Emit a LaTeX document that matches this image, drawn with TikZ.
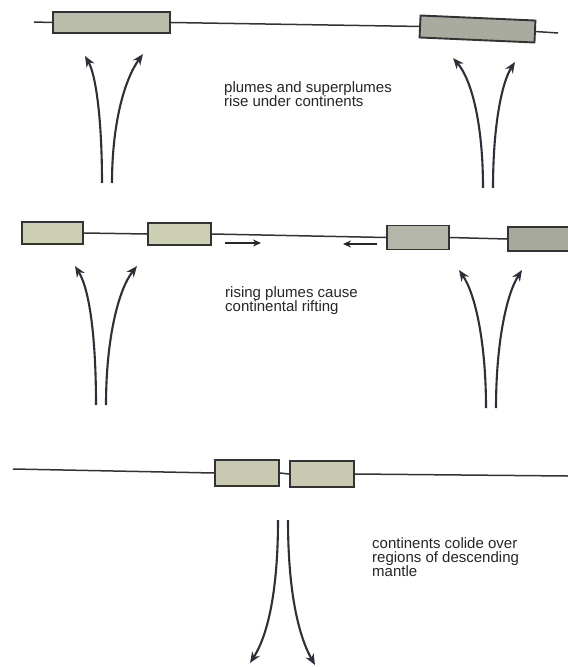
\documentclass[tikz,border=0pt]{standalone}
\usepackage{fontspec}
\setmainfont{Liberation Sans}
\usetikzlibrary{arrows.meta}
\definecolor{edge}{HTML}{333333}
\definecolor{plumecol}{HTML}{2F2F3A}
\definecolor{txt}{HTML}{262626}
\definecolor{fillA}{HTML}{B9BCA9}
\definecolor{fillB}{HTML}{A9AB9E}
\definecolor{fillC}{HTML}{CDD0B2}
\definecolor{fillD}{HTML}{B4B6AA}
\definecolor{fillE}{HTML}{A6A99C}
\definecolor{fillF}{HTML}{C9C9B1}
\tikzset{
  plate/.style={draw=edge, line width=1.9bp, inner sep=0pt, rectangle},
  crust/.style={draw=edge, line width=1.5bp},
  plume/.style={draw=plumecol, line width=2.1bp, -{Stealth[length=11bp,width=9bp]}},
  drift/.style={draw=black!85, line width=1.8bp, -{Stealth[length=8bp,width=7bp]}},
  caption/.style={anchor=north west, inner sep=0pt, align=left, text=txt,
    font=\fontsize{15bp}{14bp}\selectfont},
}
\begin{document}
\begin{tikzpicture}[x=1bp,y=-1bp]
\useasboundingbox (0,0) rectangle (568,667);
\fill[white] (0,0) rectangle (568,667);

% ---------- row 1 ----------
\coordinate (r1l) at (34,22);
\coordinate (r1r) at (558,33);
\node[plate, fill=fillA, minimum width=117bp, minimum height=21bp] (b11) at (111.5,22.5) {};
\node[plate, fill=fillB, minimum width=115bp, minimum height=22bp, rotate=-2.5] (b12) at (477.5,29) {};
\draw[crust] (r1l) -- (b11.west);
\draw[crust] (b11.east) -- (b12.west);
\draw[crust] (b12.east) -- (r1r);

\coordinate (t11) at (102,183); \coordinate (h11) at (85,56);
\coordinate (t12) at (112,183); \coordinate (h12) at (143,54);
\coordinate (t13) at (483,188); \coordinate (h13) at (453,58);
\coordinate (t14) at (493,188); \coordinate (h14) at (515,62);
\draw[plume] (t11) .. controls (102,120) and (96,75) .. (h11);
\draw[plume] (t12) .. controls (112,125) and (124,80) .. (h12);
\draw[plume] (t13) .. controls (483,125) and (472,80) .. (h13);
\draw[plume] (t14) .. controls (493,125) and (502,82) .. (h14);

\node[caption] (c1) at (224,81) {plumes and superplumes\\rise under continents};

% ---------- row 2 ----------
\node[plate, fill=fillC, minimum width=61bp, minimum height=22bp] (b21) at (52.5,233) {};
\node[plate, fill=fillC, minimum width=63bp, minimum height=22bp] (b22) at (179.5,234) {};
\node[plate, fill=fillD, minimum width=62bp, minimum height=24bp] (b23) at (418,237.5) {};
\node[plate, fill=fillE, minimum width=64bp, minimum height=24bp] (b24) at (540,239) {};
\draw[crust] (b21.east) -- (b22.west);
\draw[crust] (b22.east) -- (b23.west);
\draw[crust] (b23.east) -- (b24.west);

\coordinate (d1s) at (225,243); \coordinate (d1e) at (261,243);
\coordinate (d2s) at (377,244); \coordinate (d2e) at (343,244);
\draw[drift] (d1s) -- (d1e);
\draw[drift] (d2s) -- (d2e);

\coordinate (t21) at (96,405);  \coordinate (h21) at (75,266);
\coordinate (t22) at (106,405); \coordinate (h22) at (137,266);
\coordinate (t23) at (486,408); \coordinate (h23) at (459,270);
\coordinate (t24) at (496,408); \coordinate (h24) at (522,270);
\draw[plume] (t21) .. controls (96,340) and (90,290) .. (h21);
\draw[plume] (t22) .. controls (106,340) and (118,290) .. (h22);
\draw[plume] (t23) .. controls (486,345) and (476,295) .. (h23);
\draw[plume] (t24) .. controls (496,345) and (506,295) .. (h24);

\node[caption] (c2) at (225,286) {rising plumes cause\\continental rifting};

% ---------- row 3 ----------
\coordinate (r3l) at (13,469);
\coordinate (r3r) at (568,476);
\node[plate, fill=fillF, minimum width=64bp, minimum height=26bp] (b31) at (247,473) {};
\node[plate, fill=fillF, minimum width=64bp, minimum height=26bp] (b32) at (322,474) {};
\draw[crust] (r3l) -- (b31.west);
\draw[crust] (b31.east) -- (b32.west);
\draw[crust] (b32.east) -- (r3r);

\coordinate (t31) at (278,520); \coordinate (h31) at (250,663);
\coordinate (t32) at (288,520); \coordinate (h32) at (315,665);
\draw[plume] (t31) .. controls (278,590) and (268,635) .. (h31);
\draw[plume] (t32) .. controls (288,590) and (298,635) .. (h32);

\node[caption] (c3) at (372,537) {continents colide over\\regions of descending\\mantle};
\end{tikzpicture}
\end{document}
